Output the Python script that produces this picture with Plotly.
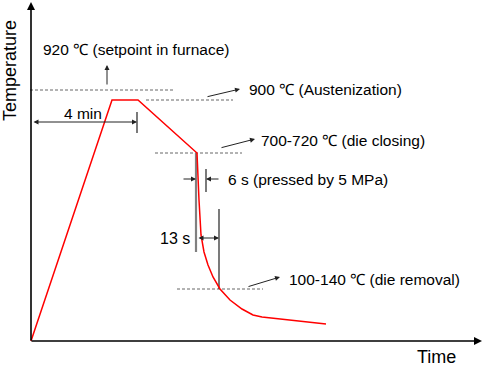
import plotly.graph_objects as go

# Schematic coordinate system (abstract units: time -> x, temperature -> y)
curve_t = [31, 112, 138, 197, 199, 201, 204, 208, 213, 220, 230, 242, 253, 262, 326]
curve_T = [25, 266, 266, 213, 166, 131, 114, 101, 89, 77, 66, 57, 51, 49, 42]

# reference levels (dashed lines): [x_start, x_end, level]
lvl_920 = [30, 175, 276]
lvl_900 = [146, 233, 266]
lvl_700 = [155, 242, 213]
lvl_100 = [177, 263, 77]

labels = ["920 \u2103 (setpoint in furnace)", "900 \u2103 (Austenization)",
          "700-720 \u2103 (die closing)", "6 s (pressed by 5 MPa)",
          "100-140 \u2103 (die removal)", "4 min", "13 s"]

FONT = "Liberation Sans, Arial, sans-serif"
fig = go.Figure()

# dashed levels
for lv in [lvl_920, lvl_900, lvl_700, lvl_100]:
    fig.add_trace(go.Scatter(x=[lv[0], lv[1]], y=[lv[2], lv[2]], mode="lines",
                             line=dict(color="#666666", width=1, dash="3px,2px"),
                             hoverinfo="skip"))

# gray press line (6 s start / 13 s start)
fig.add_trace(go.Scatter(x=[196, 196], y=[213, 114], mode="lines",
                         line=dict(color="#808080", width=2.2), hoverinfo="skip"))
# tick lines
for xs, ys in [([137, 137], [254, 233]), ([206, 206], [197, 174]), ([219, 219], [157, 77])]:
    fig.add_trace(go.Scatter(x=xs, y=ys, mode="lines",
                             line=dict(color="#222222", width=1.2), hoverinfo="skip"))

# red temperature curve
fig.add_trace(go.Scatter(x=curve_t, y=curve_T, mode="lines",
                         line=dict(color="#ff0000", width=1.5), hoverinfo="skip"))

def arrow(x, y, ax, ay, width=1.0, head=2, size=1.0, side="end", color="#222222"):
    fig.add_annotation(x=x, y=y, ax=ax, ay=ay, xref="x", yref="y", axref="x", ayref="y",
                       text="", showarrow=True, arrowhead=head, arrowsize=size,
                       arrowwidth=width, arrowcolor=color, arrowside=side,
                       startarrowhead=head, startarrowsize=size)

# axes
arrow(31, 364, 31, 24, width=1.6, head=2, size=1.0, color="black")
arrow(482, 25, 30, 25, width=1.6, head=2, size=1.0, color="black")

# annotation arrows
arrow(107, 301, 107, 280)
arrow(240, 277, 206, 269)
arrow(255, 227, 220, 218)
arrow(280, 89, 247, 79)
arrow(196, 187, 182, 187)
arrow(206, 187, 220, 187)
arrow(137, 244, 32, 244, side="end+start")
arrow(219, 128, 197, 128, side="end+start")

def text(x, y, s, anchor="left", size=15.5):
    fig.add_annotation(x=x, y=y, xref="x", yref="y", text=s, showarrow=False,
                       xanchor=anchor, yanchor="middle",
                       font=dict(family=FONT, size=size, color="black"))

text(41, 317, labels[0])
text(247, 277, labels[1])
text(259, 226, labels[2])
text(226, 187, labels[3])
text(287, 87, labels[4])
text(83, 253, labels[5], anchor="center")
text(192, 128, labels[6], anchor="right", size=16)

fig.add_annotation(x=436, y=9, xref="x", yref="y", text="Time", showarrow=False,
                   yanchor="middle", font=dict(family=FONT, size=18, color="black"))
fig.add_annotation(x=10, y=295, xref="x", yref="y", text="Temperature", showarrow=False,
                   textangle=-90, font=dict(family=FONT, size=18, color="black"))

fig.update_layout(width=484, height=366, margin=dict(l=0, r=0, t=0, b=0),
                  paper_bgcolor="white", plot_bgcolor="white", showlegend=False,
                  xaxis=dict(range=[0, 484], visible=False, fixedrange=True),
                  yaxis=dict(range=[0, 366], visible=False, fixedrange=True))

fig.write_html("out.html", config={"displayModeBar": False},
               post_script="document.body.style.margin='0';")
